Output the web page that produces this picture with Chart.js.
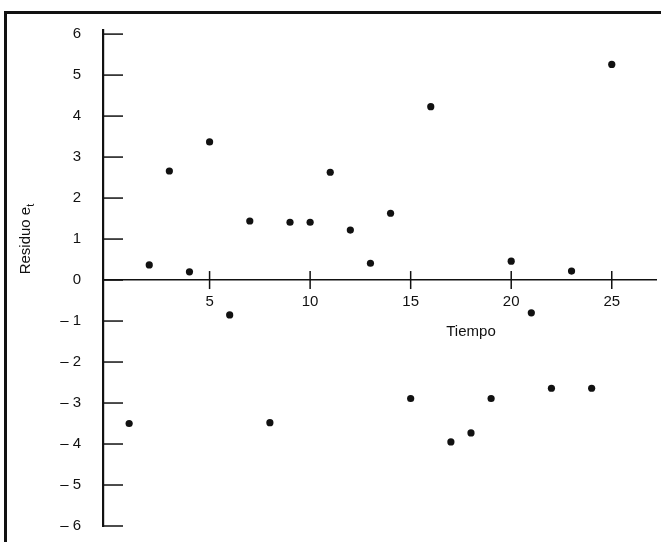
<!DOCTYPE html>
<html>
<head>
<meta charset="utf-8">
<script src="https://cdn.jsdelivr.net/npm/chart.js@4/dist/chart.umd.min.js"></script>
<style>
  html, body { margin: 0; padding: 0; background: #fff; }
  #wrap { width: 661px; height: 542px; position: relative; }
</style>
</head>
<body>
<div id="wrap"><canvas id="c" width="661" height="542"></canvas></div>
<script>
// ---- data ----
const times = [1, 2, 3, 4, 5, 6, 7, 8, 9, 10, 11, 12, 13, 14, 15, 16, 17, 18, 19, 20, 21, 22, 23, 24, 25];
const residuals = [-3.5, 0.37, 2.66, 0.2, 3.37, -0.85, 1.44, -3.48, 1.41, 1.41, 2.63, 1.22, 0.41, 1.63,
                   -2.89, 4.23, -3.95, -3.73, -2.89, 0.46, -0.8, -2.64, 0.22, -2.64, 5.26];
const xTickValues = [5, 10, 15, 20, 25];
const xTickLabels = ['5', '10', '15', '20', '25'];
const yTickValues = [6, 5, 4, 3, 2, 1, 0, -1, -2, -3, -4, -5, -6];
const yTickLabels = ['6', '5', '4', '3', '2', '1', '0', '\u2013 1', '\u2013 2', '\u2013 3', '\u2013 4', '\u2013 5', '\u2013 6'];
const xTitle = 'Tiempo';
const yTitleMain = 'Residuo e';
const yTitleSub = 't';

const FONT = '"Liberation Sans", Arial, sans-serif';
const INK = '#111';

const decor = {
  id: 'decor',
  beforeDraw(chart) {
    const ctx = chart.ctx;
    ctx.save();
    ctx.fillStyle = '#fff';
    ctx.fillRect(0, 0, chart.width, chart.height);
    // scanned page frame
    ctx.fillStyle = INK;
    ctx.fillRect(4, 11, 3, chart.height - 11);
    ctx.fillRect(4, 11, chart.width - 4, 3);
    ctx.restore();
  },
  afterDraw(chart) {
    const ctx = chart.ctx, xs = chart.scales.x, ys = chart.scales.y;
    const area = chart.chartArea;
    const y0 = ys.getPixelForValue(0);
    ctx.save();
    ctx.strokeStyle = INK;
    ctx.lineWidth = 1.5;
    // y ticks pointing into the plot
    yTickValues.forEach(v => {
      const py = ys.getPixelForValue(v);
      ctx.beginPath();
      ctx.moveTo(area.left, py);
      ctx.lineTo(area.left + 20, py);
      ctx.stroke();
    });
    // x ticks crossing the zero line
    xTickValues.forEach(v => {
      const px = xs.getPixelForValue(v);
      ctx.beginPath();
      ctx.moveTo(px, y0 - 9);
      ctx.lineTo(px, y0 + 9);
      ctx.stroke();
    });
    // axis titles
    ctx.fillStyle = INK;
    ctx.font = '15px ' + FONT;
    ctx.textAlign = 'center';
    ctx.textBaseline = 'middle';
    ctx.fillText(xTitle, xs.getPixelForValue(18), y0 + 52);
    ctx.translate(26, ys.getPixelForValue(1));
    ctx.rotate(-Math.PI / 2);
    ctx.textAlign = 'left';
    const w = ctx.measureText(yTitleMain).width;
    ctx.font = '11px ' + FONT;
    const ws = ctx.measureText(yTitleSub).width;
    const start = -(w + ws) / 2;
    ctx.font = '15px ' + FONT;
    ctx.fillText(yTitleMain, start, 0);
    ctx.font = '11px ' + FONT;
    ctx.fillText(yTitleSub, start + w, 5);
    ctx.restore();
  }
};

new Chart(document.getElementById('c'), {
  type: 'scatter',
  data: {
    datasets: [{
      data: times.map((t, i) => ({ x: t, y: residuals[i] })),
      backgroundColor: INK,
      borderWidth: 0,
      pointRadius: 3.6,
      pointHoverRadius: 3.6
    }]
  },
  options: {
    responsive: false,
    animation: false,
    events: [],
    layout: { padding: { top: 30, bottom: 16, right: 5, left: 0 } },
    plugins: { legend: { display: false }, tooltip: { enabled: false } },
    scales: {
      x: {
        type: 'linear',
        position: { y: 0 },
        min: -0.3,
        max: 27.2,
        afterBuildTicks: s => { s.ticks = xTickValues.map(v => ({ value: v })); },
        afterFit: s => { s.height = 0; },
        grid: { display: false, drawTicks: false },
        border: { display: true, color: INK, width: 1.5 },
        ticks: {
          color: INK,
          font: { family: FONT, size: 15 },
          padding: 13,
          maxRotation: 0,
          autoSkip: false,
          callback: v => xTickLabels[xTickValues.indexOf(v)]
        }
      },
      y: {
        type: 'linear',
        min: -6,
        max: 6.1,
        afterBuildTicks: s => { s.ticks = yTickValues.map(v => ({ value: v })); },
        afterFit: s => { s.width = 103; },
        grid: { display: false, drawTicks: true, tickLength: 22 },
        border: { display: true, color: INK, width: 2.2 },
        ticks: {
          color: INK,
          font: { family: FONT, size: 15 },
          padding: 0,
          autoSkip: false,
          callback: v => yTickLabels[yTickValues.indexOf(v)]
        }
      }
    }
  },
  plugins: [decor]
});
</script>
</body>
</html>
